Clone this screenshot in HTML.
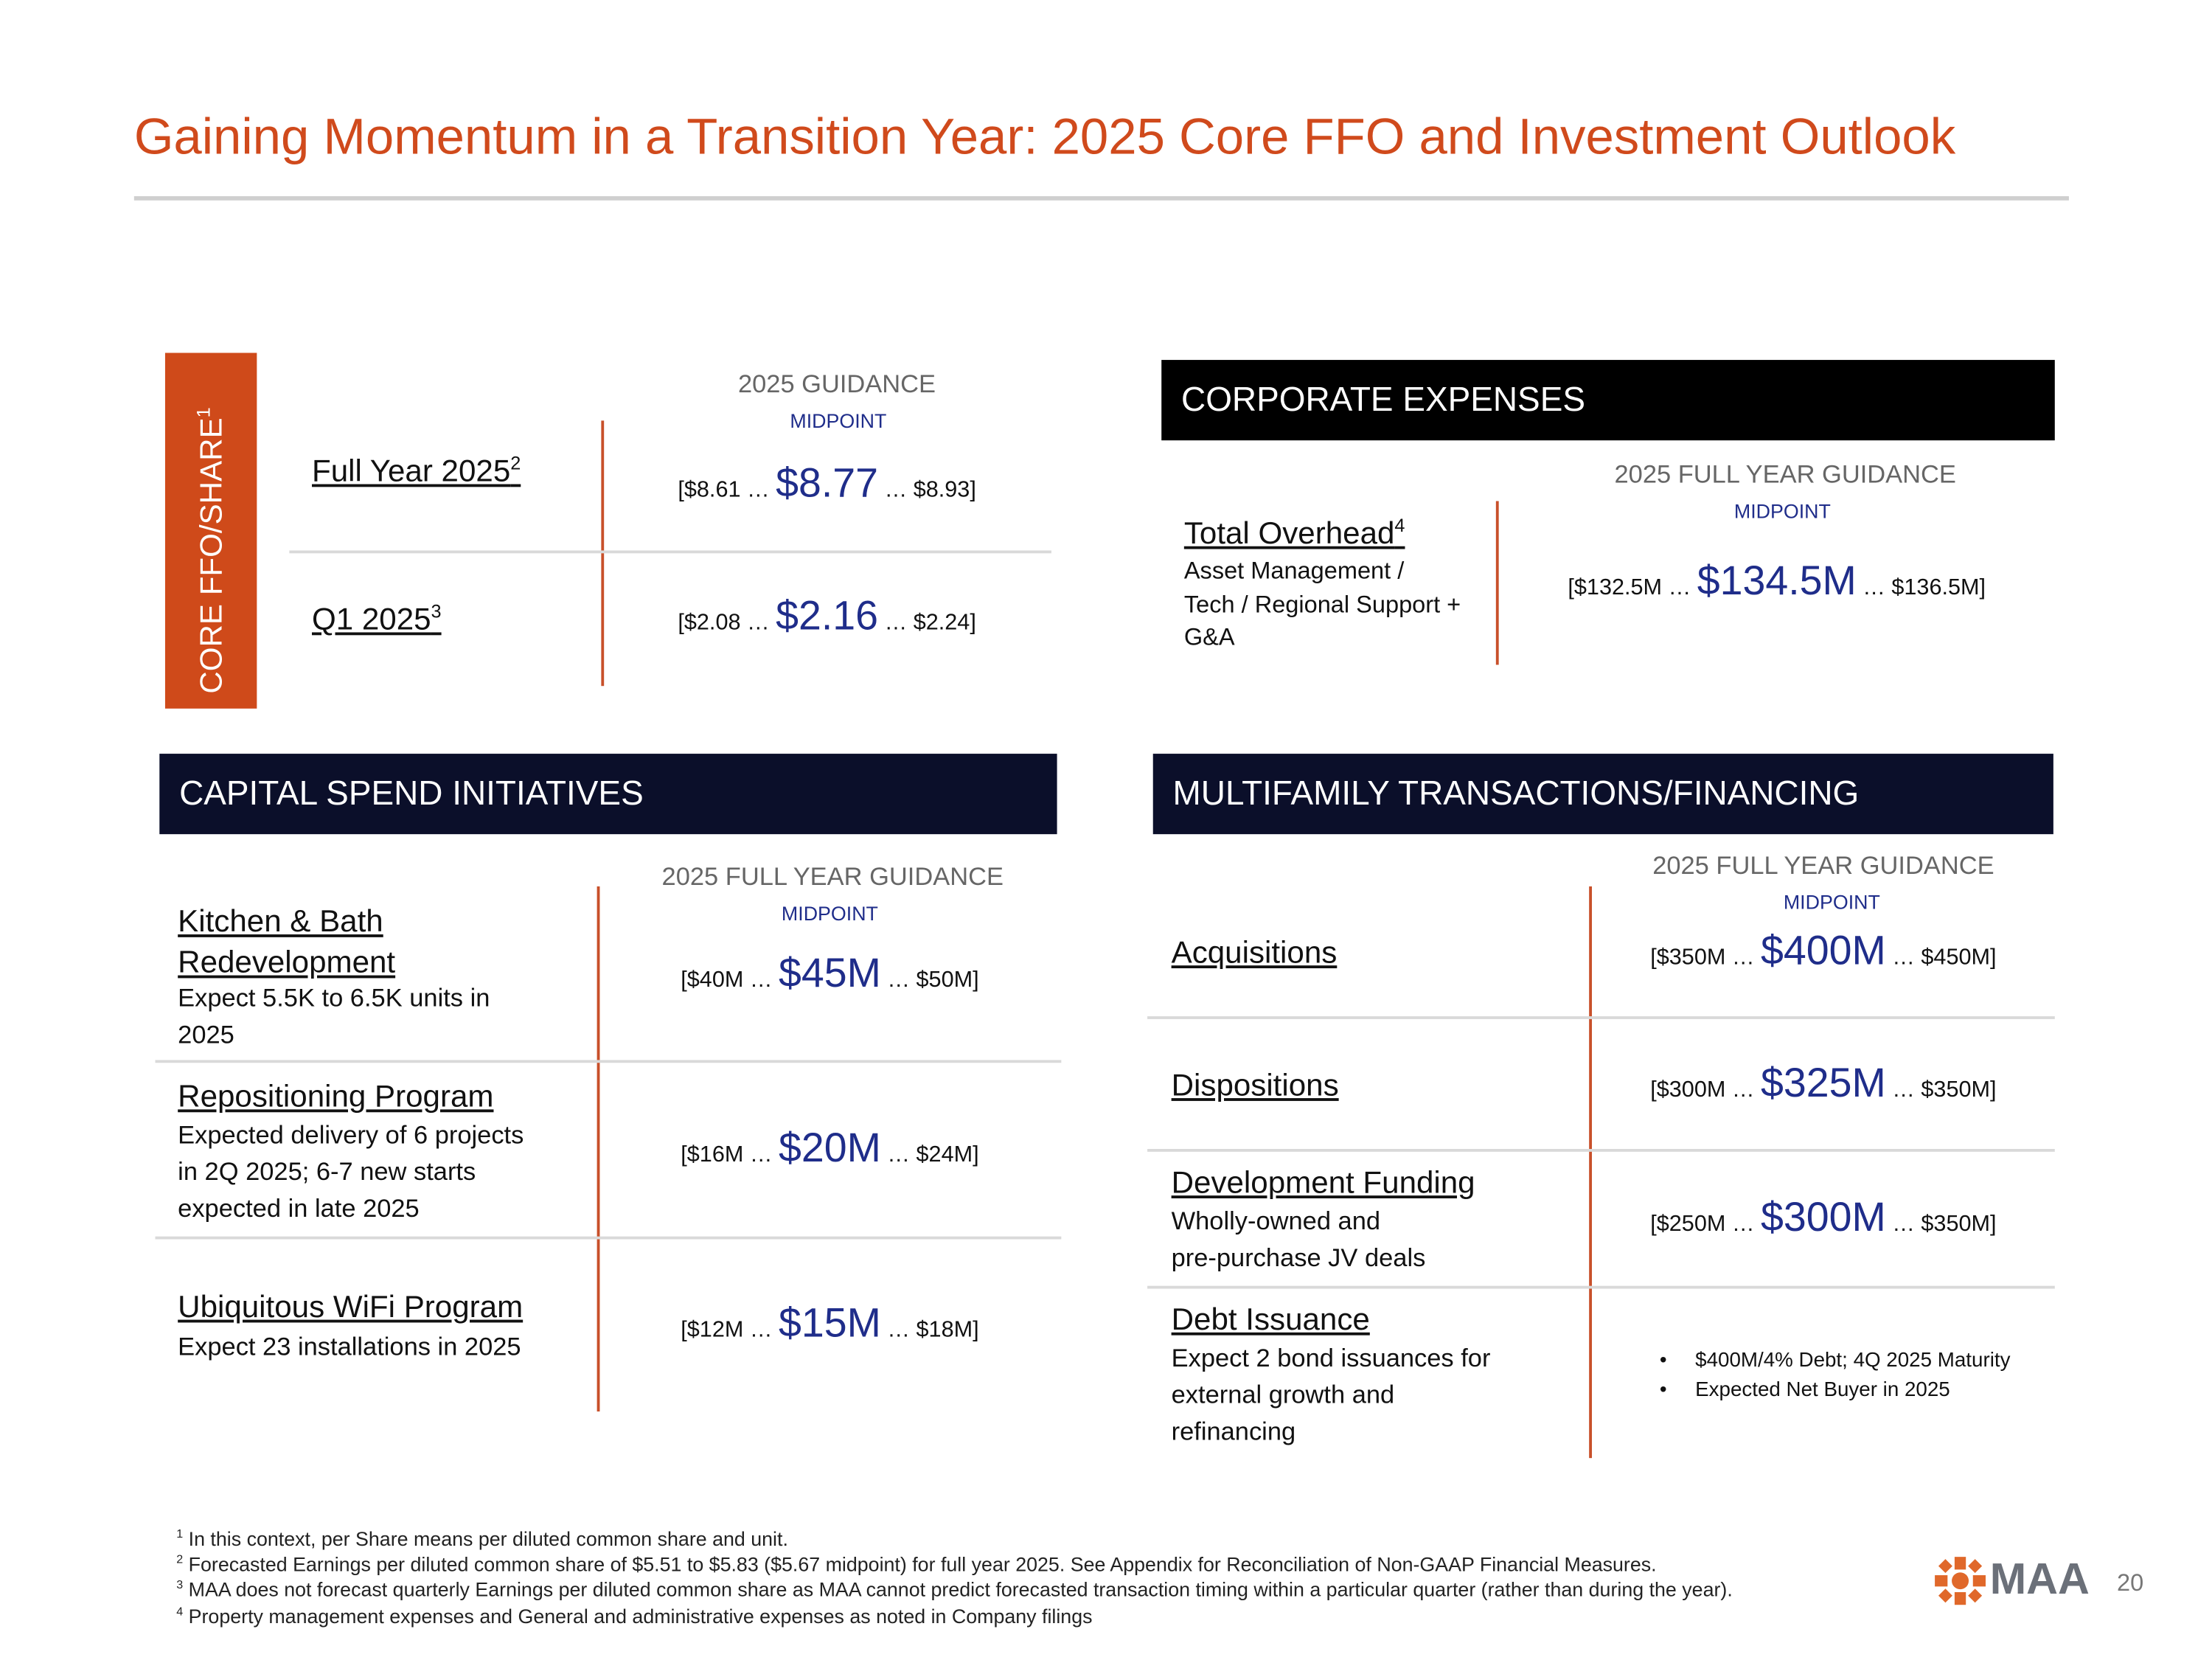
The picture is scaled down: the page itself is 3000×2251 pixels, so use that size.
<!DOCTYPE html>
<html><head><meta charset="utf-8">
<style>
html,body{margin:0;padding:0;background:#fff;}
body{width:3000px;height:2250px;overflow:hidden;position:relative;}
#s{position:absolute;left:0;top:0;width:1568px;height:1176px;transform:scale(1.914);transform-origin:0 0;font-family:"Liberation Sans",sans-serif;color:#111;}
.a{position:absolute;white-space:nowrap;}
.u{text-decoration:underline;}
.g{color:#666;font-size:18px;}
.m{color:#1f2d8a;font-size:14px;}
.v{font-size:16px;color:#111;}
.v b{font-weight:normal;color:#1f2d8a;font-size:29px;}
.vl{position:absolute;width:2px;background:#c8502a;}
.hl{position:absolute;height:2px;background:#d9d9d9;}
.hd{position:absolute;color:#fff;font-size:24px;line-height:57px;padding-left:14px;box-sizing:border-box;}
.lab{font-size:22px;}
.sub{font-size:18px;line-height:26px;}
.fn{font-size:14px;color:#222;}
sup{font-size:60%;line-height:0;}
</style></head><body>
<div id="s">
<div class="a" style="left:95px;top:76px;font-size:36px;color:#d04a1c;">Gaining Momentum in a Transition Year: 2025 Core FFO and Investment Outlook</div>
<div style="position:absolute;left:95px;top:139px;width:1371px;height:3px;background:#cfcfcf;"></div>

<div style="position:absolute;left:117px;top:250px;width:65px;height:252px;background:#cf4a1a;"></div>
<div class="a" style="left:150px;top:390px;transform:translate(-50%,-50%) rotate(-90deg);color:#fff;font-size:22px;">CORE FFO/SHARE<sup>1</sup></div>
<div class="a g" style="left:593px;top:262px;transform:translateX(-50%);">2025 GUIDANCE</div>
<div class="a m" style="left:594px;top:290px;transform:translateX(-50%);">MIDPOINT</div>
<div class="vl" style="left:426px;top:298px;height:188px;"></div>
<div class="hl" style="left:205px;top:390px;width:540px;"></div>
<div class="a lab u" style="left:221px;top:321px;">Full Year 2025<sup>2</sup></div>
<div class="a v" style="left:586px;top:327px;transform:translateX(-50%);">[$8.61 … <b>$8.77</b> … $8.93]</div>
<div class="a lab u" style="left:221px;top:426px;">Q1 2025<sup>3</sup></div>
<div class="a v" style="left:586px;top:421px;transform:translateX(-50%);">[$2.08 … <b>$2.16</b> … $2.24]</div>

<div class="hd" style="left:823px;top:255px;width:633px;background:#000;">CORPORATE EXPENSES</div>
<div class="a g" style="left:1265px;top:326px;transform:translateX(-50%);">2025 FULL YEAR GUIDANCE</div>
<div class="a m" style="left:1263px;top:354px;transform:translateX(-50%);">MIDPOINT</div>
<div class="vl" style="left:1060px;top:355px;height:116px;"></div>
<div class="a lab u" style="left:839px;top:365px;">Total Overhead<sup>4</sup></div>
<div class="a sub" style="left:839px;top:393px;font-size:17px;line-height:23.5px;">Asset Management /<br>Tech / Regional Support +<br>G&amp;A</div>
<div class="a v" style="left:1259px;top:396px;transform:translateX(-50%);">[$132.5M … <b>$134.5M</b> … $136.5M]</div>

<div class="hd" style="left:113px;top:534px;width:636px;background:#0b0f2a;">CAPITAL SPEND INITIATIVES</div>
<div class="a g" style="left:590px;top:611px;transform:translateX(-50%);">2025 FULL YEAR GUIDANCE</div>
<div class="a m" style="left:588px;top:639px;transform:translateX(-50%);">MIDPOINT</div>
<div class="vl" style="left:423px;top:628px;height:372px;"></div>
<div class="hl" style="left:110px;top:751px;width:642px;"></div>
<div class="hl" style="left:110px;top:876px;width:642px;"></div>
<div class="a lab u" style="left:126px;top:638px;line-height:29px;">Kitchen &amp; Bath<br>Redevelopment</div>
<div class="a sub" style="left:126px;top:694px;">Expect 5.5K to 6.5K units in<br>2025</div>
<div class="a v" style="left:588px;top:674px;transform:translateX(-50%);">[$40M … <b>$45M</b> … $50M]</div>
<div class="a lab u" style="left:126px;top:764px;">Repositioning Program</div>
<div class="a sub" style="left:126px;top:791px;">Expected delivery of 6 projects<br>in 2Q 2025; 6-7 new starts<br>expected in late 2025</div>
<div class="a v" style="left:588px;top:798px;transform:translateX(-50%);">[$16M … <b>$20M</b> … $24M]</div>
<div class="a lab u" style="left:126px;top:913px;">Ubiquitous WiFi Program</div>
<div class="a sub" style="left:126px;top:941px;">Expect 23 installations in 2025</div>
<div class="a v" style="left:588px;top:922px;transform:translateX(-50%);">[$12M … <b>$15M</b> … $18M]</div>

<div class="hd" style="left:817px;top:534px;width:638px;background:#0b0f2a;">MULTIFAMILY TRANSACTIONS/FINANCING</div>
<div class="a g" style="left:1292px;top:603px;transform:translateX(-50%);">2025 FULL YEAR GUIDANCE</div>
<div class="a m" style="left:1298px;top:631px;transform:translateX(-50%);">MIDPOINT</div>
<div class="vl" style="left:1126px;top:628px;height:405px;"></div>
<div class="hl" style="left:813px;top:720px;width:643px;"></div>
<div class="hl" style="left:813px;top:814px;width:643px;"></div>
<div class="hl" style="left:813px;top:911px;width:643px;"></div>
<div class="a lab u" style="left:830px;top:662px;">Acquisitions</div>
<div class="a v" style="left:1292px;top:658px;transform:translateX(-50%);">[$350M … <b>$400M</b> … $450M]</div>
<div class="a lab u" style="left:830px;top:756px;">Dispositions</div>
<div class="a v" style="left:1292px;top:752px;transform:translateX(-50%);">[$300M … <b>$325M</b> … $350M]</div>
<div class="a lab u" style="left:830px;top:825px;">Development Funding</div>
<div class="a sub" style="left:830px;top:852px;">Wholly-owned and<br>pre-purchase JV deals</div>
<div class="a v" style="left:1292px;top:847px;transform:translateX(-50%);">[$250M … <b>$300M</b> … $350M]</div>
<div class="a lab u" style="left:830px;top:922px;">Debt Issuance</div>
<div class="a sub" style="left:830px;top:949px;">Expect 2 bond issuances for<br>external growth and<br>refinancing</div>
<div class="a" style="left:1176px;top:954px;font-size:14.5px;line-height:21px;">•&nbsp;&nbsp;&nbsp;&nbsp;&nbsp;$400M/4% Debt; 4Q 2025 Maturity<br>•&nbsp;&nbsp;&nbsp;&nbsp;&nbsp;Expected Net Buyer in 2025</div>

<div class="a fn" style="left:125px;top:1081px;line-height:18.2px;">
<sup>1</sup> In this context, per Share means per diluted common share and unit.<br>
<sup>2</sup> Forecasted Earnings per diluted common share of $5.51 to $5.83 ($5.67 midpoint) for full year 2025. See Appendix for Reconciliation of Non-GAAP Financial Measures.<br>
<sup>3</sup> MAA does not forecast quarterly Earnings per diluted common share as MAA cannot predict forecasted transaction timing within a particular quarter (rather than during the year).<br>
<sup>4</sup> Property management expenses and General and administrative expenses as noted in Company filings</div>

<svg style="position:absolute;left:1370px;top:1102px;" width="38" height="36" viewBox="0 0 38 36">
<g fill="#e0682a"><circle cx="19" cy="18" r="6"/><rect x="15" y="1" width="8" height="9"/><rect x="15" y="26" width="8" height="9"/><rect x="1" y="14" width="9" height="8"/><rect x="28" y="14" width="9" height="8"/><rect x="5" y="4" width="7" height="7" transform="rotate(45 8.5 7.5)"/><rect x="26" y="4" width="7" height="7" transform="rotate(45 29.5 7.5)"/><rect x="5" y="25" width="7" height="7" transform="rotate(45 8.5 28.5)"/><rect x="26" y="25" width="7" height="7" transform="rotate(45 29.5 28.5)"/></g></svg>
<div class="a" style="left:1410px;top:1101px;font-size:31px;color:#6b7079;font-weight:bold;">MAA</div>
<div class="a" style="left:1500px;top:1112px;font-size:17px;color:#777;">20</div>
</div>
</body></html>
